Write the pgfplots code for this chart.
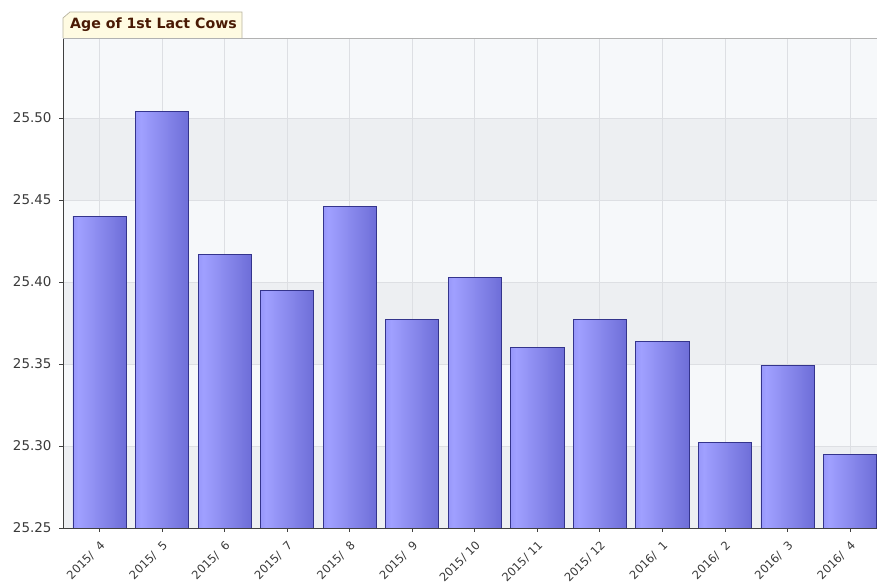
\documentclass[border=0pt]{standalone}
\usepackage{pgfplots}
\pgfplotsset{compat=1.18}
\usepackage{fontspec}
\setmainfont{DejaVu Sans}
\definecolor{barmid}{HTML}{A0A0FF}
\definecolor{barleft}{HTML}{6C6CDE}
\definecolor{barright}{HTML}{5252C2}
\definecolor{barline}{HTML}{34348C}
\definecolor{bgcol}{HTML}{F6F8FA}
\definecolor{bandcol}{HTML}{EDEFF2}
\definecolor{gridcol}{HTML}{DDDFE3}
\definecolor{tabfill}{HTML}{FFFBE2}
\definecolor{tabline}{HTML}{B8B4A0}
\definecolor{tabtext}{HTML}{4A1A05}
\definecolor{ticktext}{HTML}{3A3A3A}
\pgfdeclarehorizontalshading{barshade}{100bp}{color(0bp)=(barleft); color(30bp)=(barmid); color(100bp)=(barright)}
\pgfplotsset{barstyle/.style={draw=barline, line width=0.6pt, shading=barshade, forget plot}}
\begin{document}
\begin{tikzpicture}
\begin{axis}[
  set layers,
  at={(63bp,56bp)}, anchor=south west,
  scale only axis, width=827bp, height=490bp,
  xmin=-0.584, xmax=12.64, ymin=25.25, ymax=25.5488,
  ybar, bar width=0.85, bar shift=0pt,
  axis x line*=bottom, axis y line*=left,
  axis line style={black!75, line width=0.9pt},
  axis background/.style={fill=bgcol},
  xtick={0,...,12},
  xticklabels={2015/\ \ 4,2015/\ \ 5,2015/\ \ 6,2015/\ \ 7,2015/\ \ 8,2015/\ \ 9,2015/ 10,2015/ 11,2015/ 12,2016/\ \ 1,2016/\ \ 2,2016/\ \ 3,2016/\ \ 4},
  ytick={25.25,25.30,25.35,25.40,25.45,25.50},
  yticklabel style={/pgf/number format/fixed, /pgf/number format/fixed zerofill, /pgf/number format/precision=2, /pgf/number format/assume math mode=true, xshift=-4bp, font=\fontsize{13.5}{15}\selectfont},
  ticklabel style={text=ticktext},
  xticklabel style={rotate=45, anchor=north east, inner sep=1bp, yshift=-4.5bp, xshift=-4.5bp, font=\fontsize{11.6}{14}\selectfont},
  tick align=outside,
  major tick length=4bp,
  tick style={black!75, line width=0.8pt},
  grid=major,
  grid style={gridcol, line width=0.8pt},
]
\pgfonlayer{axis background}
\fill[bandcol] (axis cs:-0.584,25.25) rectangle (axis cs:12.64,25.30);
\fill[bandcol] (axis cs:-0.584,25.35) rectangle (axis cs:12.64,25.40);
\fill[bandcol] (axis cs:-0.584,25.45) rectangle (axis cs:12.64,25.50);
\endpgfonlayer
\addplot[barstyle] coordinates {(0,25.440)};
\addplot[barstyle] coordinates {(1,25.504)};
\addplot[barstyle] coordinates {(2,25.417)};
\addplot[barstyle] coordinates {(3,25.395)};
\addplot[barstyle] coordinates {(4,25.446)};
\addplot[barstyle] coordinates {(5,25.377)};
\addplot[barstyle] coordinates {(6,25.403)};
\addplot[barstyle] coordinates {(7,25.360)};
\addplot[barstyle] coordinates {(8,25.377)};
\addplot[barstyle] coordinates {(9,25.364)};
\addplot[barstyle] coordinates {(10,25.302)};
\addplot[barstyle] coordinates {(11,25.349)};
\addplot[barstyle] coordinates {(12,25.295)};
\draw[black!30, line width=0.8pt] (rel axis cs:0,1) -- (rel axis cs:1,1);
\end{axis}
\draw[tabline, fill=tabfill, line width=0.7pt] (63bp,546bp) -- (63bp,566bp) -- (70bp,572bp) -- (242bp,572bp) -- (242bp,546bp);
\node[anchor=west, text=tabtext, font=\bfseries\fontsize{14.2}{16}\selectfont, inner sep=0pt] at (70bp,559bp) {Age of 1st Lact Cows};
\pgfresetboundingbox
\useasboundingbox (0,0) rectangle (877bp,584bp);
\end{tikzpicture}
\end{document}
